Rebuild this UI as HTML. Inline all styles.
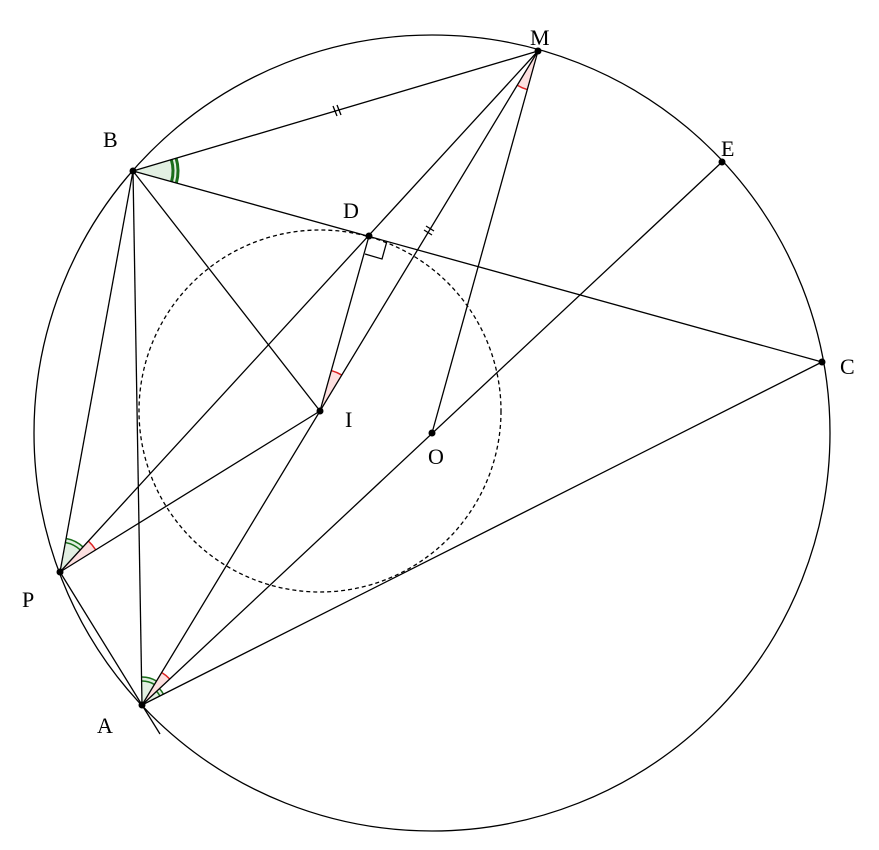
<!DOCTYPE html>
<html><head><meta charset="utf-8"><style>
html,body{margin:0;padding:0;background:#fff;width:879px;height:850px;overflow:hidden}
text{font-family:"Liberation Serif",serif;font-size:22px;fill:#000}
</style></head><body>
<svg id="s" width="879" height="850" xmlns="http://www.w3.org/2000/svg">
<g id="ang"></g>
<g stroke="#000" stroke-width="1.3" fill="none">
<circle cx="432" cy="433" r="398"/>
<circle cx="320" cy="411" r="181" stroke-dasharray="4,3"/>
<line x1="133" y1="171" x2="538" y2="51"/>
<line x1="133" y1="171" x2="822" y2="362"/>
<line x1="133" y1="171" x2="320" y2="411"/>
<line x1="133" y1="171" x2="60" y2="572"/>
<line x1="133" y1="171" x2="142" y2="705"/>
<line x1="538" y1="51" x2="60" y2="572"/>
<line x1="538" y1="51" x2="142" y2="705"/>
<line x1="538" y1="51" x2="432" y2="433"/>
<line x1="722" y1="162" x2="142" y2="705"/>
<line x1="369" y1="236" x2="320" y2="411"/>
<line x1="60" y1="572" x2="320" y2="411"/>
<line x1="60" y1="572" x2="142" y2="705"/>
<line x1="142" y1="705" x2="822" y2="362"/>
<line x1="142" y1="705" x2="160" y2="734"/>
<polyline points="387,241 382,259 365,254"/>
<line x1="333" y1="106" x2="337" y2="116"/><line x1="337" y1="105" x2="341" y2="115"/>
<line x1="424" y1="230" x2="432" y2="235"/><line x1="426" y1="226" x2="434" y2="231"/>
</g>
<g fill="#000">
<circle cx="538" cy="51" r="3.5"/><circle cx="133" cy="171" r="3.5"/><circle cx="722" cy="162" r="3.5"/>
<circle cx="369" cy="236" r="3.5"/><circle cx="822" cy="362" r="3.5"/><circle cx="320" cy="411" r="3.5"/>
<circle cx="432" cy="433" r="3.5"/><circle cx="60" cy="572" r="3.5"/><circle cx="142" cy="705" r="3.5"/>
</g>
<text x="530" y="45">M</text><text x="103" y="147">B</text><text x="721" y="156">E</text>
<text x="343" y="218">D</text><text x="840" y="374">C</text><text x="345" y="427">I</text>
<text x="428" y="464">O</text><text x="22" y="607">P</text><text x="97" y="733">A</text>
</svg>
<script>
var g=document.getElementById('ang'),NS='http://www.w3.org/2000/svg';
function ang(v,a,b,r,fill,stroke,sw,arcs){
 var a1=Math.atan2(a[1]-v[1],a[0]-v[0]),a2=Math.atan2(b[1]-v[1],b[0]-v[0]);
 var d=a2-a1;while(d>Math.PI)d-=2*Math.PI;while(d<-Math.PI)d+=2*Math.PI;
 var sf=d>0?1:0;
 function pt(rr,t){return [v[0]+rr*Math.cos(t),v[1]+rr*Math.sin(t)];}
 var p1=pt(r,a1),p2=pt(r,a1+d);
 var w=document.createElementNS(NS,'path');
 w.setAttribute('d','M'+v+' L'+p1+' A'+r+' '+r+' 0 0 '+sf+' '+p2+' Z');
 w.setAttribute('fill',fill);g.appendChild(w);
 arcs.forEach(function(rr){var q1=pt(rr,a1),q2=pt(rr,a1+d);
  var e=document.createElementNS(NS,'path');
  e.setAttribute('d','M'+q1+' A'+rr+' '+rr+' 0 0 '+sf+' '+q2);
  e.setAttribute('fill','none');e.setAttribute('stroke',stroke);e.setAttribute('stroke-width',sw);g.appendChild(e);});
}
var M=[538,51],B=[133,171],C=[822,362],D=[369,236],I=[320,411],O=[432,433],P=[60,572],A=[142,705];
var pink='#fde0e0',red='#d22',gf='#e2efe2',gr='#1a6e1a';
ang(M,A,O,40,pink,red,1.5,[40]);
ang(I,D,M,42,pink,red,1.5,[42]);
ang(P,M,I,42,pink,red,1.5,[42]);
ang(A,M,O,38,pink,red,1.5,[38]);
ang(B,M,C,44,gf,gr,3,[40,45]);
ang(P,B,M,34,gf,gr,1.5,[30,34]);
ang(A,B,M,28,gf,gr,1.5,[24,28]);
ang(A,O,C,24,gf,gr,1.5,[20,24]);
</script>
</body></html>
